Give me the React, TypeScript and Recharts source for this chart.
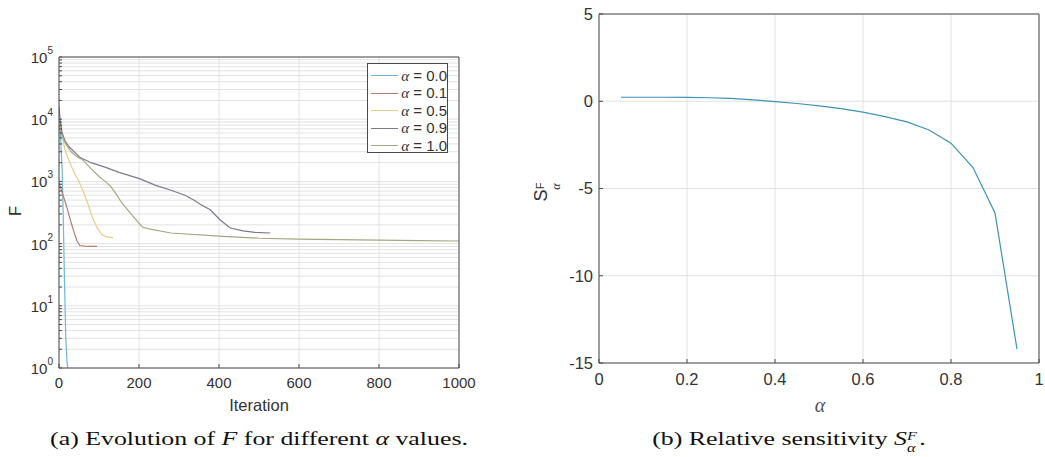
import React from "react";
import { LineChart, Line, XAxis, YAxis, CartesianGrid } from "recharts";

// ---- left panel: F vs iteration (log scale) ----
const ITER_TICKS = [0, 200, 400, 600, 800, 1000];
const DECADES = [1, 10, 100, 1000, 10000, 100000];

const ITER_A00 = [0, 4, 8, 11, 14, 17, 20, 22];
const F_A00 = [16000, 5000, 1500, 200, 20, 3, 1.3, 1];

const ITER_A01 = [0, 5, 10, 15, 22, 30, 38, 45, 52, 65, 80, 95];
const F_A01 = [950, 760, 600, 480, 340, 220, 150, 110, 93, 91, 90, 90];

const ITER_A05 = [0, 3, 8, 15, 22, 30, 40, 50, 60, 70, 83, 95, 108, 120, 135];
const F_A05 = [12000, 8000, 5000, 3200, 2400, 1800, 1300, 1000, 700, 480, 270, 180, 138, 128, 125];

const ITER_A09 = [0, 3, 8, 15, 25, 40, 52, 80, 115, 150, 203, 240, 280, 315, 340, 353, 378, 403, 428, 460, 490, 528];
const F_A09 = [16000, 9500, 6000, 4500, 3600, 2900, 2450, 2000, 1700, 1400, 1100, 870, 720, 600, 490, 430, 350, 240, 178, 160, 152, 148];

const ITER_A10 = [0, 5, 15, 30, 45, 60, 80, 100, 115, 128, 142, 157, 180, 208, 228, 280, 400, 500, 600, 700, 800, 900, 1000];
const F_A10 = [8000, 6000, 4200, 3000, 2500, 2200, 1600, 1200, 1000, 850, 640, 450, 300, 185, 171, 148, 132, 122, 118, 116, 114, 112, 110];

const LEGEND_LABELS = ["0.0", "0.1", "0.5", "0.9", "1.0"];

// ---- right panel: sensitivity ----
const ALPHA = [0.05, 0.1, 0.15, 0.2, 0.25, 0.3, 0.35, 0.4, 0.45, 0.5, 0.55, 0.6, 0.65, 0.7, 0.75, 0.8, 0.85, 0.9, 0.95];
const SENS = [0.23, 0.23, 0.23, 0.22, 0.2, 0.16, 0.08, -0.02, -0.13, -0.27, -0.42, -0.62, -0.88, -1.18, -1.65, -2.4, -3.8, -6.4, -14.2];
const ALPHA_TICKS = [0, 0.2, 0.4, 0.6, 0.8, 1];
const SENS_TICKS = [-15, -10, -5, 0, 5];

const COLORS = ["#72b6d8", "#b37d72", "#e6cd88", "#7f7892", "#a6a882"];
const AXIS = "#4a4a4a";
const GRID = "#e2e2e2";
const SANS = "Liberation Sans, Arial, Helvetica, sans-serif";
const SERIF = "Liberation Serif, Times New Roman, serif";

const series = [ITER_A00, ITER_A01, ITER_A05, ITER_A09, ITER_A10].map((it, k) => {
  const f = [F_A00, F_A01, F_A05, F_A09, F_A10][k];
  return { name: LEGEND_LABELS[k], color: COLORS[k], data: it.map((x, i) => ({ iter: x, f: f[i] })) };
});

// minor log gridlines 1..9 x each decade
const LOG_TICKS = DECADES.slice(0, -1)
  .flatMap((d) => [1, 2, 3, 4, 5, 6, 7, 8, 9].map((m) => m * d))
  .concat(DECADES[DECADES.length - 1]);

const sensData = ALPHA.map((a, i) => ({ a, s: SENS[i] }));

function LogTick(props: any) {
  const { x, y, payload } = props;
  const e = Math.log10(payload.value);
  if (Math.abs(e - Math.round(e)) > 1e-9) return null;
  return (
    <text x={x} y={y} textAnchor="end" fill="#333" fontSize={15} fontFamily={SANS}>
      <tspan dy={6}>10</tspan>
      <tspan dy={-9} fontSize={10}>{Math.round(e)}</tspan>
    </text>
  );
}

const captionStyle: React.CSSProperties = {
  position: "absolute", top: 428, textAlign: "center", fontFamily: SERIF, fontSize: 19,
  color: "#111", whiteSpace: "nowrap", transform: "scaleX(1.36)", transformOrigin: "center",
};

export default function App() {
  return (
    <div style={{ position: "absolute", left: 0, top: 0, width: 1045, height: 457, background: "#fff", overflow: "hidden" }}>
      {/* (a) */}
      <div style={{ position: "absolute", left: 0, top: 0 }}>
        <LineChart width={520} height={457} margin={{ top: 56, right: 60, bottom: 59, left: 0 }}>
          <CartesianGrid stroke={GRID} />
          <XAxis
            dataKey="iter" type="number" domain={[0, 1000]} ticks={ITER_TICKS} allowDataOverflow
            height={30} tickSize={-4} tickMargin={13} stroke={AXIS}
            tick={{ fontSize: 15, fill: "#333", fontFamily: SANS }}
          />
          <XAxis xAxisId="top" orientation="top" type="number" domain={[0, 1000]} ticks={ITER_TICKS}
            height={1} tickSize={-4} tick={false} stroke={AXIS} />
          <YAxis
            dataKey="f" scale="log" type="number" domain={[1, 100000]} ticks={LOG_TICKS} allowDataOverflow
            width={59} tickSize={-3} tickMargin={9} stroke={AXIS} tick={<LogTick />} interval={0}
          />
          <YAxis yAxisId="right" orientation="right" scale="log" type="number" domain={[1, 100000]}
            ticks={LOG_TICKS} width={1} tickSize={-3} tick={false} stroke={AXIS} interval={0} />
          {series.map((s) => (
            <Line key={s.name} data={s.data} dataKey="f" type="linear" stroke={s.color} strokeWidth={1.2}
              dot={false} isAnimationActive={false} />
          ))}
        </LineChart>
      </div>

      {/* legend */}
      <div style={{ position: "absolute", left: 367, top: 63, width: 81, height: 90, border: `1px solid ${AXIS}`, background: "#fff", boxSizing: "border-box", padding: "3px 0 0 3px" }}>
        {series.map((s) => (
          <div key={s.name} style={{ display: "flex", alignItems: "center", height: 17.5 }}>
            <div style={{ width: 29, height: 0, borderTop: `1.2px solid ${s.color}` }} />
            <span style={{ marginLeft: 3, fontSize: 15, fontFamily: SANS, color: "#333", whiteSpace: "nowrap" }}>
              <i style={{ fontFamily: SERIF }}>α</i> = {s.name}
            </span>
          </div>
        ))}
      </div>

      {/* (b) */}
      <div style={{ position: "absolute", left: 520, top: 0 }}>
        <LineChart width={525} height={457} data={sensData} margin={{ top: 13, right: 5, bottom: 64, left: 0 }}>
          <CartesianGrid stroke={GRID} />
          <XAxis
            dataKey="a" type="number" domain={[0, 1]} ticks={ALPHA_TICKS} height={30} tickSize={-4}
            tickMargin={14} stroke={AXIS} tick={{ fontSize: 16.5, fill: "#333", fontFamily: SANS }}
          />
          <XAxis xAxisId="top" orientation="top" type="number" domain={[0, 1]} ticks={ALPHA_TICKS}
            height={1} tickSize={-4} tick={false} stroke={AXIS} />
          <YAxis
            type="number" domain={[-15, 5]} ticks={SENS_TICKS} width={79} tickSize={-4} tickMargin={10}
            stroke={AXIS} tick={{ fontSize: 16.5, fill: "#333", fontFamily: SANS }}
          />
          <YAxis yAxisId="right" orientation="right" type="number" domain={[-15, 5]} ticks={SENS_TICKS}
            width={1} tickSize={-4} tick={false} stroke={AXIS} />
          <Line dataKey="s" type="linear" stroke="#3f93b4" strokeWidth={1.2} dot={false} isAnimationActive={false} />
        </LineChart>
      </div>

      {/* axis titles */}
      <svg width={1045} height={457} style={{ position: "absolute", left: 0, top: 0, pointerEvents: "none" }}>
        <text transform="translate(21,211) rotate(-90)" textAnchor="middle" fontSize={16.5} fill="#333" fontFamily={SANS}>F</text>
        <text x={259} y={411} textAnchor="middle" fontSize={16.5} fill="#333" fontFamily={SANS}>Iteration</text>
        <text transform="translate(547,192) rotate(-90)" textAnchor="middle" fontSize={18} fill="#333" fontFamily={SANS}>
          <tspan>S</tspan>
          <tspan dy={-3} fontSize={11}>F</tspan>
          <tspan dx={-7} dy={16} fontSize={12} fontStyle="italic" fontFamily={SERIF}>α</tspan>
        </text>
        <text x={820} y={412} textAnchor="middle" fontSize={20} fontStyle="italic" fill="#555" fontFamily={SERIF}>α</text>
      </svg>

      {/* captions */}
      <div style={{ ...captionStyle, left: 0, width: 518 }}>
        (a) Evolution of <i>F</i> for different <i>α</i> values.
      </div>
      <div style={{ ...captionStyle, left: 529, width: 520 }}>
        (b) Relative sensitivity <i>S</i>
        <span style={{ position: "relative", display: "inline-block", width: 9 }}>
          <i style={{ position: "absolute", left: 0, top: -16, fontSize: 12 }}>F</i>
          <i style={{ position: "absolute", left: 0, top: -4, fontSize: 12 }}>α</i>
        </span>
        .
      </div>
    </div>
  );
}
